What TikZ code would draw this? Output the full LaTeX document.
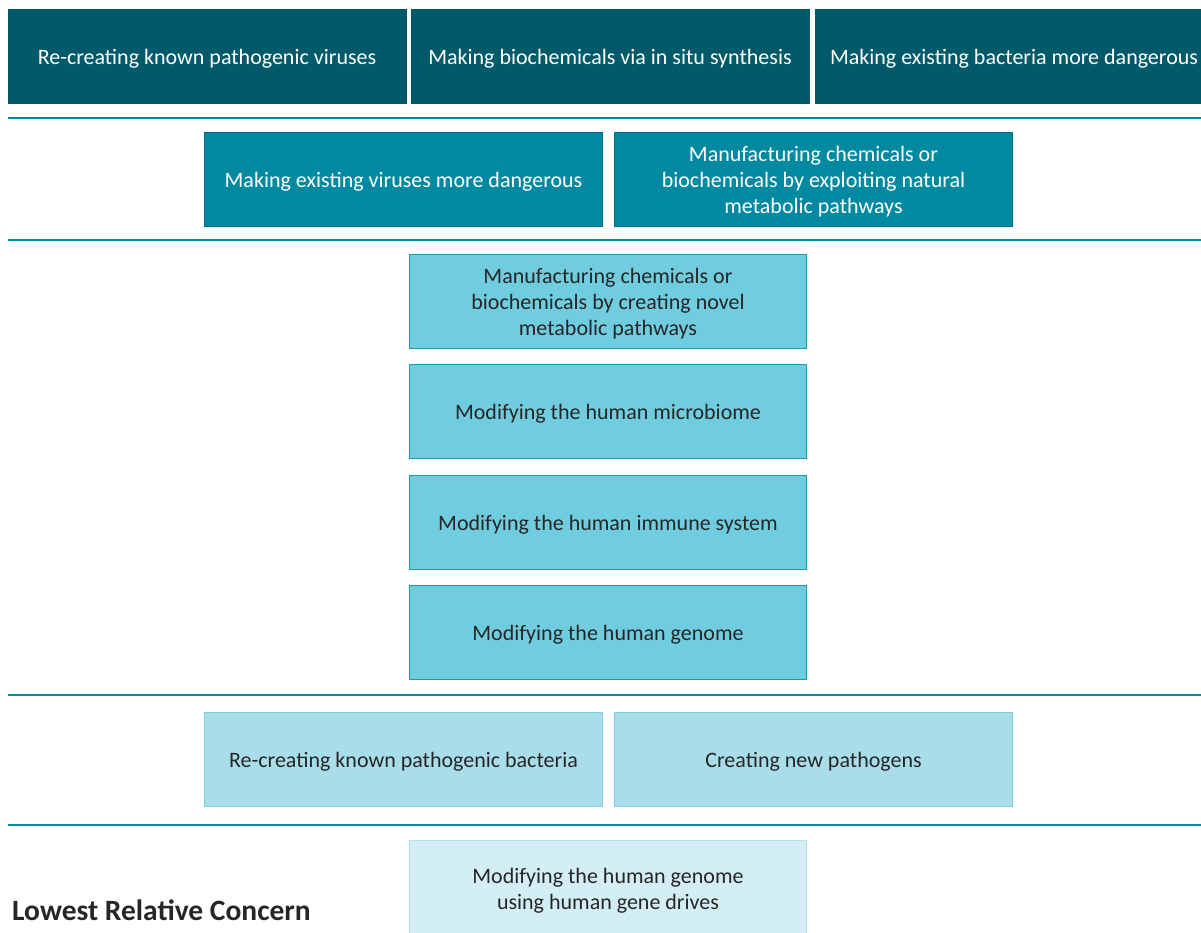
\documentclass[tikz,border=0pt]{standalone}
\usepackage{fontspec}
\setmainfont{Carlito}
\definecolor{dark}{HTML}{005A69}
\definecolor{mid}{HTML}{0089A0}
\definecolor{midb}{HTML}{006F80}
\definecolor{light}{HTML}{70CDDF}
\definecolor{lightb}{HTML}{1E9AAE}
\definecolor{pale}{HTML}{A8DDE9}
\definecolor{paleb}{HTML}{7DD0E2}
\definecolor{vpale}{HTML}{D4EEF5}
\definecolor{vpaleb}{HTML}{B0E0EC}
\definecolor{sep}{HTML}{008BA0}
\definecolor{txt}{HTML}{262626}
\begin{document}
\begin{tikzpicture}[x=1pt,y=-1pt,
  box/.style={rectangle,inner sep=0pt,minimum width=398,minimum height=94},
  tt/.style={inner sep=0pt,align=center,font=\fontsize{22}{26}\selectfont,yshift=-2.5pt},
  wt/.style={tt,text=white},
  dt/.style={tt,text=txt},
  tier1/.style={box,fill=dark,draw=dark},
  tier2/.style={box,fill=mid,draw=midb,line width=1pt},
  tier3/.style={box,fill=light,draw=lightb,line width=1pt},
  tier4/.style={box,fill=pale,draw=paleb,line width=1pt},
  tier5/.style={box,fill=vpale,draw=vpaleb,line width=1pt},
  sepline/.style={draw=sep,line width=2pt}]
\useasboundingbox (0,0) rectangle (1201,932);
% tier 1
\node[tier1] (a1) at (207,56) {};
\node[wt] (a1t) at (a1.center) {Re-creating known pathogenic viruses};
\node[tier1] (a2) at (610,56) {};
\node[wt] (a2t) at (a2.center) {Making biochemicals via in situ synthesis};
\node[tier1] (a3) at (1014,56) {};
\node[wt] (a3t) at (a3.center) {Making existing bacteria more dangerous};
\coordinate (l1a) at (8,118); \coordinate (l1b) at (1201,118);
\draw[sepline] (l1a) -- (l1b);
% tier 2
\node[tier2] (b1) at (403.5,179.5) {};
\node[wt] (b1t) at (b1.center) {Making existing viruses more dangerous};
\node[tier2] (b2) at (813.5,179.5) {};
\node[wt] (b2t) at (b2.center) {Manufacturing chemicals or\\biochemicals by exploiting natural\\metabolic pathways};
\coordinate (l2a) at (8,240); \coordinate (l2b) at (1201,240);
\draw[sepline] (l2a) -- (l2b);
% tier 3
\node[tier3,minimum width=397] (c1) at (608,301.5) {};
\node[dt] (c1t) at (c1.center) {Manufacturing chemicals or\\biochemicals by creating novel\\metabolic pathways};
\node[tier3,minimum width=397] (c2) at (608,411.5) {};
\node[dt] (c2t) at (c2.center) {Modifying the human microbiome};
\node[tier3,minimum width=397] (c3) at (608,522.5) {};
\node[dt] (c3t) at (c3.center) {Modifying the human immune system};
\node[tier3,minimum width=397] (c4) at (608,632.5) {};
\node[dt] (c4t) at (c4.center) {Modifying the human genome};
\coordinate (l3a) at (8,695); \coordinate (l3b) at (1201,695);
\draw[sepline] (l3a) -- (l3b);
% tier 4
\node[tier4] (d1) at (403.5,759) {};
\node[dt] (d1t) at (d1.center) {Re-creating known pathogenic bacteria};
\node[tier4] (d2) at (813.5,759) {};
\node[dt] (d2t) at (d2.center) {Creating new pathogens};
\coordinate (l4a) at (8,825); \coordinate (l4b) at (1201,825);
\draw[sepline] (l4a) -- (l4b);
% tier 5
\node[tier5,minimum width=397,minimum height=100] (e1) at (608,890) {};
\node[dt] (e1t) at (608,888) {Modifying the human genome\\using human gene drives};
\node[anchor=base west,inner sep=0pt,font=\fontsize{29.5}{32}\selectfont\bfseries,text=txt] (lbl) at (12,920.5) {Lowest Relative Concern};
\end{tikzpicture}
\end{document}
